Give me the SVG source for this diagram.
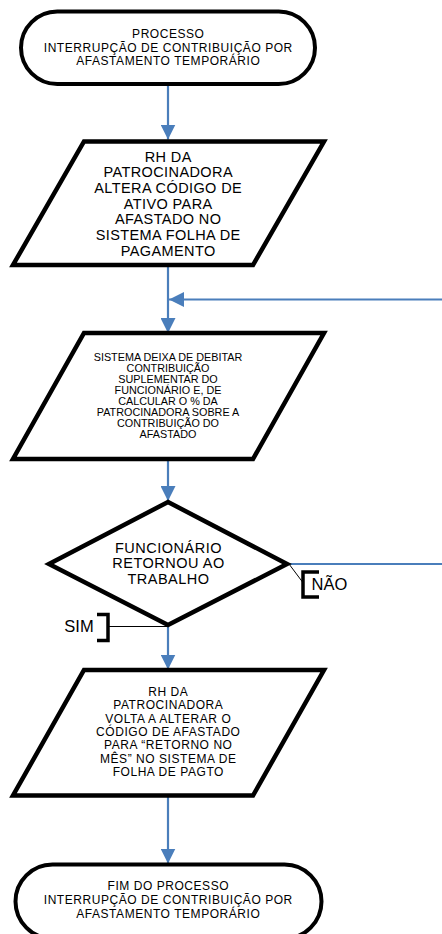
<svg xmlns="http://www.w3.org/2000/svg" width="442" height="934" viewBox="0 0 442 934">
<style>
.shape{fill:#fff;stroke:#000;stroke-width:4.5;stroke-linejoin:miter}
.term{fill:#fff;stroke:#000;stroke-width:4}
.conn{stroke:#4A7EBB;stroke-width:2.2;fill:none}
.call{stroke:#000;stroke-width:1;fill:none}
.brk{stroke:#000;stroke-width:3.5;fill:none;stroke-linejoin:miter}
text{font-family:"Liberation Sans",Arial,sans-serif;fill:#000;text-anchor:middle}
.t12{font-size:12px;letter-spacing:0.55px}
.t14{font-size:14.5px;letter-spacing:0.4px}
.t11{font-size:10.8px}
.td{font-size:14.5px;letter-spacing:0.5px}
.lbl{font-size:16.5px}
</style>
<defs>
<marker id="ah" markerUnits="userSpaceOnUse" markerWidth="15" markerHeight="15" viewBox="0 0 15 15" refX="15" refY="7.5" orient="auto">
<path d="M0,0 L15,7.5 L0,15 z" fill="#4A7EBB"/>
</marker>
</defs>
<g id="connectors">
<line class="conn" x1="168" y1="86" x2="168" y2="139.5" marker-end="url(#ah)"/>
<line class="conn" x1="168" y1="267" x2="168" y2="333" marker-end="url(#ah)"/>
<line class="conn" x1="442" y1="299.5" x2="169" y2="299.5" marker-end="url(#ah)"/>
<line class="conn" x1="168" y1="461" x2="168" y2="501" marker-end="url(#ah)"/>
<line class="conn" x1="288" y1="564" x2="442" y2="564"/>
<line class="conn" x1="168" y1="626" x2="168" y2="669.5" marker-end="url(#ah)"/>
<line class="conn" x1="168" y1="797" x2="168" y2="863.5" marker-end="url(#ah)"/>
</g>
<g id="start">
<rect class="term" x="21" y="11.5" width="294" height="72.5" rx="36.25"/>
<text class="t12" x="168.3" y="38.3">PROCESSO</text>
<text class="t12" x="168.3" y="51.7">INTERRUPÇÃO DE CONTRIBUIÇÃO POR</text>
<text class="t12" x="168.3" y="65">AFASTAMENTO TEMPORÁRIO</text>
</g>
<g id="step1">
<polygon class="shape" points="84,141.5 324,141.5 253,265 13,265"/>
<text class="t14" x="168.2" y="161.7">RH DA</text>
<text class="t14" x="168.2" y="177.4">PATROCINADORA</text>
<text class="t14" x="168.2" y="193.1">ALTERA CÓDIGO DE</text>
<text class="t14" x="168.2" y="208.8">ATIVO PARA</text>
<text class="t14" x="168.2" y="224.4">AFASTADO NO</text>
<text class="t14" x="168.2" y="240.1">SISTEMA FOLHA DE</text>
<text class="t14" x="168.2" y="255.8">PAGAMENTO</text>
</g>
<g id="step2">
<polygon class="shape" points="84,333 324,333 253,459 13,459"/>
<text class="t11" x="168" y="361">SISTEMA DEIXA DE DEBITAR</text>
<text class="t11" x="168" y="372">CONTRIBUIÇÃO</text>
<text class="t11" x="168" y="383.1">SUPLEMENTAR DO</text>
<text class="t11" x="168" y="394.1">FUNCIONÁRIO E, DE</text>
<text class="t11" x="168" y="405.2">CALCULAR O % DA</text>
<text class="t11" x="168" y="416.2">PATROCINADORA SOBRE A</text>
<text class="t11" x="168" y="427.2">CONTRIBUIÇÃO DO</text>
<text class="t11" x="168" y="438.3">AFASTADO</text>
</g>
<g id="decision">
<polygon class="shape" points="168,502 287,564 168,625 49,564"/>
<text class="td" x="168.5" y="553">FUNCIONÁRIO</text>
<text class="td" x="168.5" y="568.4">RETORNOU AO</text>
<text class="td" x="168.5" y="584">TRABALHO</text>
</g>
<g id="label-nao">
<line class="call" x1="289" y1="564" x2="302.5" y2="582"/>
<path class="brk" d="M319,572 H303 V597 H319"/>
<text class="lbl" x="329.5" y="589.5">NÃO</text>
</g>
<g id="label-sim">
<line class="call" x1="108" y1="626.5" x2="167" y2="626.5"/>
<path class="brk" d="M97,614.5 H108 V640.5 H97"/>
<text class="lbl" x="79" y="632">SIM</text>
</g>
<g id="step3">
<polygon class="shape" points="84,670 324,670 253,795.5 13,795.5"/>
<text class="t12" x="168.3" y="695.7">RH DA</text>
<text class="t12" x="168.3" y="709.1">PATROCINADORA</text>
<text class="t12" x="168.3" y="722.5">VOLTA A ALTERAR O</text>
<text class="t12" x="168.3" y="735.9">CÓDIGO DE AFASTADO</text>
<text class="t12" x="168.3" y="749.3">PARA “RETORNO NO</text>
<text class="t12" x="168.3" y="762.7">MÊS” NO SISTEMA DE</text>
<text class="t12" x="168.3" y="776.1">FOLHA DE PAGTO</text>
</g>
<g id="end">
<rect class="term" x="15.5" y="864.5" width="306" height="74" rx="37"/>
<text class="t12" x="168.3" y="890">FIM DO PROCESSO</text>
<text class="t12" x="168.3" y="904">INTERRUPÇÃO DE CONTRIBUIÇÃO POR</text>
<text class="t12" x="168.3" y="917.7">AFASTAMENTO TEMPORÁRIO</text>
</g>
</svg>
